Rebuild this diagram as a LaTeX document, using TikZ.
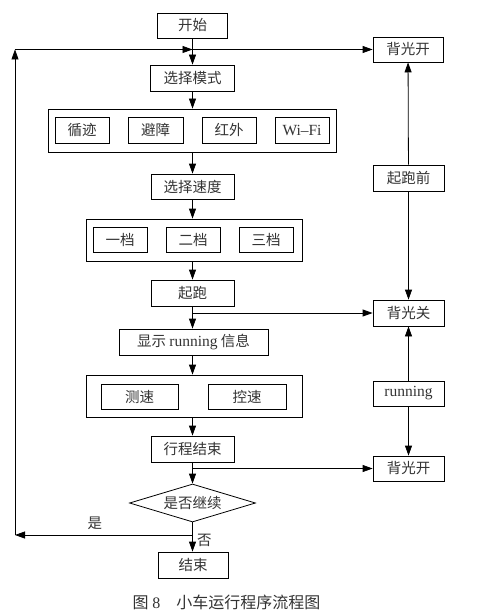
\documentclass[tikz,border=0pt]{standalone}
\usepackage{fontspec}
\setmainfont{Liberation Serif}
\newfontfamily\cjk{Noto Sans CJK SC}
\usetikzlibrary{arrows.meta,shapes.geometric}
\begin{document}
\begin{tikzpicture}[x=1pt,y=-1pt,
  line width=0.8pt,
  box/.style={draw, inner sep=0pt, minimum height=26pt, text=black!80,
    font=\cjk\fontsize{14.5}{14.5}\selectfont},
  frame/.style={draw, inner sep=0pt},
  arr/.style={-{Triangle[length=10pt,width=7pt]}},
  lab/.style={text=black!80, font=\cjk\fontsize{14.5}{14.5}\selectfont}]
\useasboundingbox (0,0) rectangle (500,615);

% left column
\node[box, minimum width=70pt, minimum height=25pt] (start) at (192.5,25.5) {开始};
\node[box, minimum width=84pt] (mode) at (192.5,78) {选择模式};
\node[frame, minimum width=288pt, minimum height=43pt] (f1) at (192,130.5) {};
\node[box, minimum width=54pt] (xj) at (82,130) {循迹};
\node[box, minimum width=55pt] (bz) at (155.5,130) {避障};
\node[box, minimum width=54pt] (hw) at (229,130) {红外};
\node[box, minimum width=54pt, font=\fontsize{15.5}{15.5}\selectfont] (wf) at (302,130) {Wi--Fi};
\node[box, minimum width=83pt, minimum height=25pt] (speed) at (192.5,186.5) {选择速度};
\node[frame, minimum width=216pt, minimum height=42pt] (f2) at (194,240) {};
\node[box, minimum width=54pt, minimum height=25pt] (g1) at (120,239.5) {一档};
\node[box, minimum width=54pt, minimum height=25pt] (g2) at (193,239.5) {二档};
\node[box, minimum width=54pt, minimum height=25pt] (g3) at (266,239.5) {三档};
\node[box, minimum width=83pt] (qp) at (192.5,293) {起跑};
\node[box, minimum width=149pt] (show) at (193.5,342) {显示 {\rmfamily\fontsize{15.5}{15.5}\selectfont running} 信息};
\node[frame, minimum width=216pt, minimum height=42pt] (f3) at (194,396) {};
\node[box, minimum width=77pt, minimum height=25pt] (cs) at (139.5,396.5) {测速};
\node[box, minimum width=78pt, minimum height=25pt] (ks) at (247,396.5) {控速};
\node[box, minimum width=83pt] (trip) at (192.5,449) {行程结束};
\node[draw, diamond, inner sep=0pt, shape aspect=3.3, minimum width=126pt, minimum height=38pt,
  text=black!80, font=\cjk\fontsize{14.5}{14.5}\selectfont] (dia) at (192.5,503) {是否继续};
\node[box, minimum width=70pt] (end) at (193,565) {结束};

% right column
\node[box, minimum width=70pt, minimum height=25pt] (on1) at (408,49.5) {背光开};
\node[box, minimum width=71pt] (pre) at (408.5,178) {起跑前};
\node[box, minimum width=71pt] (off) at (408.5,313) {背光关};
\node[box, minimum width=71pt, minimum height=25pt, font=\fontsize{15.5}{15.5}\selectfont] (run) at (408.5,393.5) {running};
\node[box, minimum width=71pt, minimum height=25pt] (on2) at (408.5,468.5) {背光开};

% coordinates
\coordinate (jtop) at (192.5,49.5);
\coordinate (ltop) at (15,49.5);
\coordinate (lbot) at (15,535);
\coordinate (dbot) at (192.5,535);
\coordinate (b1) at (192.5,313);
\coordinate (b2) at (192.5,468.5);

% main flow
\draw[arr] (start) -- (mode);
\draw[arr] (mode) -- (mode|-f1.north);
\draw[arr] (mode|-f1.south) -- (speed);
\draw[arr] (speed) -- (speed|-f2.north);
\draw[arr] (speed|-f2.south) -- (qp);
\draw[arr] (qp) -- (show.north-|qp);
\draw[arr] (show.south-|qp) -- (qp|-f3.north);
\draw[arr] (qp|-f3.south) -- (trip);
\draw[arr] (trip) -- (dia);
\draw[arr] (dia) -- (end.north-|dia) node[pos=0.6, right=1pt, lab] {否};

% loop back
\draw[arr] (dbot) -- node[above=2pt, pos=0.55, lab] {是} (lbot);
\draw[arr] (lbot) -- (ltop);
\draw[arr] (ltop) -- (jtop);
\draw[arr] (jtop) -- (on1);

% branches
\draw[arr] (b1) -- (off);
\draw[arr] (b2) -- (on2);
\draw[arr] (pre) -- (on1);
\draw[arr] (pre) -- (off);
\draw[arr] (run) -- (off);
\draw[arr] (run) -- (on2);

% caption
\node[lab, font=\cjk\fontsize{16}{16}\selectfont, anchor=west] (cap) at (129,602) {图 {\rmfamily 8}\quad 小车运行程序流程图};
\end{tikzpicture}
\end{document}
